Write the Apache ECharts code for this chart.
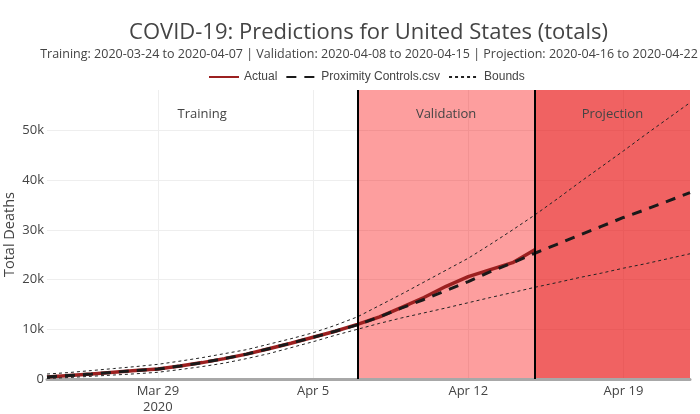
<!DOCTYPE html>
<html>
<head>
<meta charset="utf-8">
<script src="https://cdn.jsdelivr.net/npm/echarts@6/dist/echarts.min.js"></script>
<style>
  html, body { margin: 0; padding: 0; background: #fff; }
  #chart { width: 700px; height: 414px; }
</style>
</head>
<body>
<div id="chart"></div>
<script>
// ---- data ----
const dates = [
  '2020-03-24','2020-03-25','2020-03-26','2020-03-27','2020-03-28','2020-03-29','2020-03-30',
  '2020-03-31','2020-04-01','2020-04-02','2020-04-03','2020-04-04','2020-04-05','2020-04-06',
  '2020-04-07','2020-04-08','2020-04-09','2020-04-10','2020-04-11','2020-04-12','2020-04-13',
  '2020-04-14','2020-04-15','2020-04-16','2020-04-17','2020-04-18','2020-04-19','2020-04-20',
  '2020-04-21','2020-04-22'
];
const actual = [400, 700, 1000, 1350, 1700, 2000, 2600, 3300, 4100, 5000, 6100, 7200, 8400, 9600,
  11000, 12500, 14400, 16400, 18650, 20600, 22000, 23400, 26000];
const predicted = [400, 700, 1000, 1350, 1700, 2000, 2600, 3300, 4100, 5000, 6100, 7200, 8400, 9600,
  10900, 12500, 14300, 16000, 17800, 19600, 21600, 23400, 25300, 27100, 28900, 30700, 32500, 34100,
  35800, 37500];
const upperBound = [1000, 1300, 1700, 2100, 2500, 2950, 3600, 4300, 5100, 5900, 7000, 8100, 9300, 10800,
  12500, 14800, 17100, 19500, 21900, 24300, 27100, 30000, 33000, 36200, 39500, 42700, 45900, 49200,
  52400, 55600];
const lowerBound = [100, 300, 550, 800, 1050, 1350, 1900, 2500, 3200, 4100, 5100, 6300, 7500, 8800,
  10000, 11200, 12300, 13300, 14300, 15350, 16400, 17400, 18450, 19400, 20400, 21300, 22300, 23200,
  24200, 25200];
const periods = [
  { name: 'Training',   start: '2020-03-24', end: '2020-04-07' },
  { name: 'Validation', start: '2020-04-07', end: '2020-04-15' },
  { name: 'Projection', start: '2020-04-15', end: '2020-04-22' }
];
const xTickDates = ['2020-03-29', '2020-04-05', '2020-04-12', '2020-04-19'];
const xTickLabels = ['Mar 29\n2020', 'Apr 5', 'Apr 12', 'Apr 19'];
const yTicks = [0, 10000, 20000, 30000, 40000, 50000];
const titleText = 'COVID-19: Predictions for United States (totals)';
const subtitleText = 'Training: 2020-03-24 to 2020-04-07 | Validation: 2020-04-08 to 2020-04-15 | Projection: 2020-04-16 to 2020-04-22';
const yAxisTitle = 'Total Deaths';

// ---- build ----
const ts = d => Date.UTC(+d.slice(0, 4), +d.slice(5, 7) - 1, +d.slice(8, 10));
const pair = arr => arr.map((v, i) => [ts(dates[i]), v]);
const xTickTs = xTickDates.map(ts);

const FONT = '"Open Sans", "Noto Sans", sans-serif';
const shadeColors = ['rgba(255,255,255,0)', 'rgba(250,0,0,0.38)', 'rgba(230,0,0,0.616)'];

const chart = echarts.init(document.getElementById('chart'), null, { renderer: 'canvas' });
chart.setOption({
  animation: false,
  backgroundColor: '#ffffff',
  textStyle: { fontFamily: FONT },
  graphic: [
    { type: 'text', x: 368.5, y: 33, style: { text: titleText, fill: '#444', font: '22px ' + FONT, textAlign: 'center', textVerticalAlign: 'middle' } },
    { type: 'text', x: 369, y: 54, style: { text: subtitleText, fill: '#444', font: '12.5px ' + FONT, textAlign: 'center', textVerticalAlign: 'middle' } },
    { type: 'text', x: 10, y: 234.5, rotation: Math.PI / 2, style: { text: yAxisTitle, fill: '#444', font: '14.5px ' + FONT, textAlign: 'center', textVerticalAlign: 'middle' } }
  ],
  legend: {
    data: ['Actual', 'Proximity Controls.csv', 'Bounds'],
    left: 203, top: 66,
    itemWidth: 30, itemHeight: 14, itemGap: 8,
    itemStyle: { opacity: 0 },
    textStyle: { fontFamily: '"Liberation Sans", Arial, sans-serif', fontSize: 12, color: '#444' }
  },
  grid: { left: 47, right: 10, top: 90, bottom: 35, containLabel: false, outerBoundsMode: 'none' },
  xAxis: {
    type: 'value',
    min: ts(dates[0]), max: ts(dates[dates.length - 1]),
    z: 1,
    axisLine: { show: true, onZero: false, lineStyle: { color: '#a8a8a8', width: 3 } },
    axisTick: { show: false, customValues: xTickTs },
    axisLabel: {
      customValues: xTickTs,
      color: '#444', fontSize: 13, fontFamily: FONT, margin: 4, lineHeight: 16,
      formatter: function (v) {
        const i = xTickTs.indexOf(v);
        return i >= 0 ? xTickLabels[i] : '';
      }
    },
    splitLine: { show: true, lineStyle: { color: '#eeeeee', width: 1 } }
  },
  yAxis: {
    type: 'value',
    min: 0, max: 58150,
    z: 1,
    axisLine: { show: false },
    axisTick: { show: false, customValues: yTicks },
    axisLabel: {
      customValues: yTicks,
      color: '#444', fontSize: 13, fontFamily: FONT, margin: 3,
      formatter: v => (v === 0 ? '0' : (v / 1000) + 'k')
    },
    splitLine: { show: true, lineStyle: { color: '#eeeeee', width: 1 } }
  },
  series: [
    {
      name: 'periods', type: 'line', data: [], z: 0, silent: true,
      markArea: {
        silent: true,
        data: periods.map((p, i) => [
          { xAxis: ts(p.start), itemStyle: { color: shadeColors[i] },
            label: { show: true, position: 'insideTop', distance: 18, formatter: p.name, color: '#444', fontSize: 13, fontFamily: FONT } },
          { xAxis: ts(p.end) }
        ])
      },
      markLine: {
        silent: true, symbol: 'none',
        label: { show: false },
        lineStyle: { color: '#000', width: 2, type: 'solid' },
        data: [{ xAxis: ts(periods[1].start) }, { xAxis: ts(periods[2].start) }]
      }
    },
    {
      name: 'Actual', type: 'line', data: pair(actual), symbol: 'none', z: 2,
      itemStyle: { color: '#9c2020' },
      lineStyle: { color: '#9c2020', width: 3.5 }
    },
    {
      name: 'Proximity Controls.csv', type: 'line', data: pair(predicted), symbol: 'none', z: 3,
      itemStyle: { color: '#1a1a1a' },
      lineStyle: { color: '#1a1a1a', width: 3, type: [10, 8] }
    },
    {
      name: 'Bounds', type: 'line', data: pair(upperBound), symbol: 'none', z: 3,
      itemStyle: { color: '#222' },
      lineStyle: { color: '#222', width: 1, type: [3, 3] }
    },
    {
      name: 'Bounds', type: 'line', data: pair(lowerBound), symbol: 'none', z: 3,
      itemStyle: { color: '#222' },
      lineStyle: { color: '#222', width: 1, type: [3, 3] }
    }
  ]
});
</script>
</body>
</html>
